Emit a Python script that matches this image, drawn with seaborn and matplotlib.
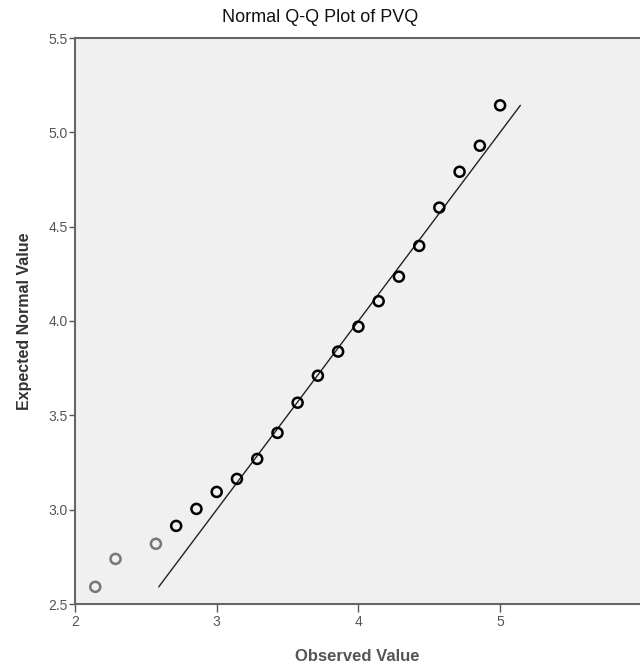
import matplotlib
matplotlib.use("Agg")
import matplotlib.pyplot as plt
import seaborn as sns
import pandas as pd

observed = [2.143, 2.286, 2.571, 2.714, 2.857, 3.000, 3.143, 3.286, 3.429, 3.571,
            3.714, 3.857, 4.000, 4.143, 4.286, 4.429, 4.571, 4.714, 4.857, 5.000]
expected = [2.591, 2.739, 2.819, 2.914, 3.004, 3.094, 3.163, 3.269, 3.407, 3.567,
            3.710, 3.838, 3.970, 4.105, 4.235, 4.398, 4.601, 4.791, 4.929, 5.143]
point_colors = ["#777777"] * 3 + ["#000000"] * 17
x_ticks = [2, 3, 4, 5]
y_ticks = [2.5, 3.0, 3.5, 4.0, 4.5, 5.0, 5.5]

sns.set_theme(style="white")
plt.rcParams["font.family"] = ["Liberation Sans", "DejaVu Sans"]

df = pd.DataFrame({"Observed": observed, "Expected": expected})
ref = pd.DataFrame({"x": [min(expected), max(expected)], "y": [min(expected), max(expected)]})

fig = plt.figure(figsize=(6.4, 6.69), dpi=100)
ax = fig.add_axes([75 / 640, 1 - 604 / 669, 1 - 75 / 640, (604 - 38) / 669])
ax.set_facecolor("#F0F0F0")

sns.lineplot(data=ref, x="x", y="y", ax=ax, color="#222222", linewidth=1.0)
sns.scatterplot(data=df, x="Observed", y="Expected", ax=ax, s=52,
                facecolor="none", edgecolor=point_colors, linewidth=1.8, zorder=3)

ax.set_xlim(2, 2 + 565 / 141.7)
ax.set_ylim(2.5, 5.5)
ax.set_xticks(x_ticks)
ax.set_xticklabels([str(t) for t in x_ticks])
ax.set_yticks(y_ticks)
ax.set_yticklabels([f"{t:.1f}" for t in y_ticks])

ax.tick_params(axis="both", which="major", direction="out", width=1,
               color="#555555", labelcolor="#555555", labelsize=10,
               bottom=True, left=True)
ax.tick_params(axis="x", length=6, pad=2)
ax.tick_params(axis="y", length=4, pad=1)

for side in ["left", "bottom", "top"]:
    ax.spines[side].set_visible(True)
    ax.spines[side].set_color("#666666")
    ax.spines[side].set_linewidth(1.5)
ax.spines["right"].set_visible(False)

ax.set_xlabel("Observed Value", fontsize=12, fontweight="bold", color="#555555", labelpad=14)
ax.set_ylabel("Expected Normal Value", fontsize=11.5, fontweight="bold", color="#333333", labelpad=12)
fig.text(0.5, 1 - 18 / 669, "Normal Q-Q Plot of PVQ", ha="center", va="center",
         fontsize=13, color="#111111")

fig.savefig("out.png", dpi=100)
